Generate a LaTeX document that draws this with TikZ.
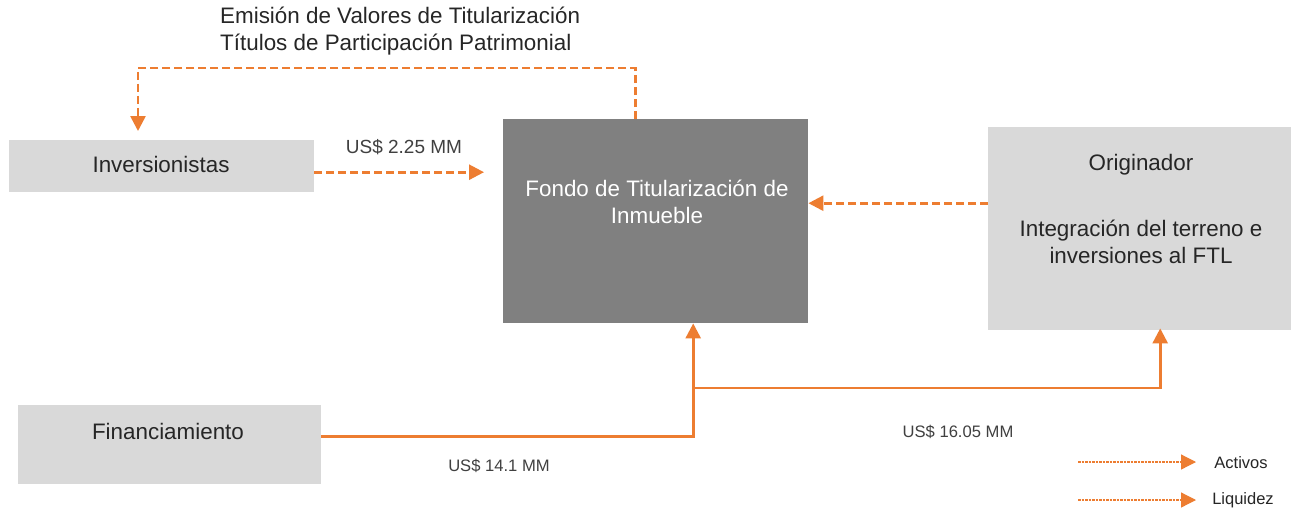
\documentclass[tikz,border=0pt]{standalone}
\usepackage{fontspec}
\setmainfont{Liberation Sans}
\usetikzlibrary{arrows.meta,calc}
\definecolor{orng}{HTML}{ED7D31}
\definecolor{lgray}{HTML}{D9D9D9}
\definecolor{dgray}{HTML}{808080}
\definecolor{txt}{HTML}{262626}
\definecolor{lbl}{HTML}{404040}
\tikzset{
  box/.style={draw=none, inner sep=0pt, anchor=north west},
  lightbox/.style={box, fill=lgray},
  darkbox/.style={box, fill=dgray},
  maintext/.style={inner sep=0pt, text=txt, font=\fontsize{22.4}{27}\selectfont, align=center},
  whitetext/.style={maintext, text=white},
  smalltext/.style={inner sep=0pt, text=lbl, font=\fontsize{19}{22}\selectfont},
  tighttext/.style={inner sep=0pt, text=lbl, font=\fontsize{16.6}{20}\selectfont},
  legtext/.style={inner sep=0pt, text=txt, font=\fontsize{16.5}{20}\selectfont},
  tip/.style={-{Triangle[length=15pt,width=15pt]}},
  flowdash/.style={tip, draw=orng, line width=2.6pt, dash pattern=on 8pt off 4pt},
  flowsolid/.style={tip, draw=orng, line width=2.6pt},
  legline/.style={draw=orng, line width=1.2pt, dash pattern=on 2.5pt off 1pt, -{Triangle[length=15pt,width=15pt]}},
}
\begin{document}
\begin{tikzpicture}[x=1pt,y=-1pt]
\useasboundingbox (0,0) rectangle (1291,512);
\fill[white] (0,0) rectangle (1291,512);

% boxes
\node[lightbox, minimum width=305pt, minimum height=52pt] (inv) at (9,140) {};
\node[darkbox, minimum width=305pt, minimum height=204pt] (ftl) at (503,119) {};
\node[lightbox, minimum width=303pt, minimum height=203pt] (orig) at (988,127) {};
\node[lightbox, minimum width=303pt, minimum height=79pt] (fin) at (18,405) {};

% box texts
\node[maintext] (invt) at (161,164) {Inversionistas};
\node[whitetext] (ftlt) at (657,202) {Fondo de Titularización de\\Inmueble};
\node[maintext] (origt1) at (1141,165) {Originador};
\node[maintext] (origt2) at (1141,242) {Integración del terreno e\\inversiones al FTL};
\node[maintext] (fint) at (168,431) {Financiamiento};

% title
\node[maintext, align=left, anchor=west] (title) at (220,31) {Emisión de Valores de Titularización\\Títulos de Participación Patrimonial};

% connectors
\coordinate (topL) at (138,68);
\draw[flowdash] ([xshift=-20.5pt]ftl.north) |- (topL) -- ($(inv.north -| topL)+(0,-9)$);
\draw[flowdash] ([yshift=-6pt]inv.east) -- ([xshift=-19pt,yshift=-6pt]inv.east -| ftl.west);
\draw[flowdash] ([yshift=25.5pt]orig.west) -- ([yshift=25.5pt]orig.west -| ftl.east);

\coordinate (jn) at (693,388);
\draw[flowsolid] ([yshift=8.5pt]fin.east) -| ([xshift=37.5pt]ftl.south);
\draw[flowsolid] (jn) -| ([xshift=20.5pt,yshift=2pt]orig.south);

% labels
\node[smalltext] (l1) at (404,147) {US\$ 2.25 MM};
\node[tighttext] (l2) at (499,466) {US\$ 14.1 MM};
\node[tighttext] (l3) at (958,432) {US\$ 16.05 MM};

% legend
\coordinate (a1) at (1078,462);
\coordinate (a2) at (1196,462);
\coordinate (b1) at (1078,500);
\coordinate (b2) at (1196,500);
\draw[legline] (a1) -- (a2);
\draw[legline] (b1) -- (b2);
\node[legtext] (leg1) at (1241,463) {Activos};
\node[legtext] (leg2) at (1243,500) {Liquidez};
\end{tikzpicture}
\end{document}
